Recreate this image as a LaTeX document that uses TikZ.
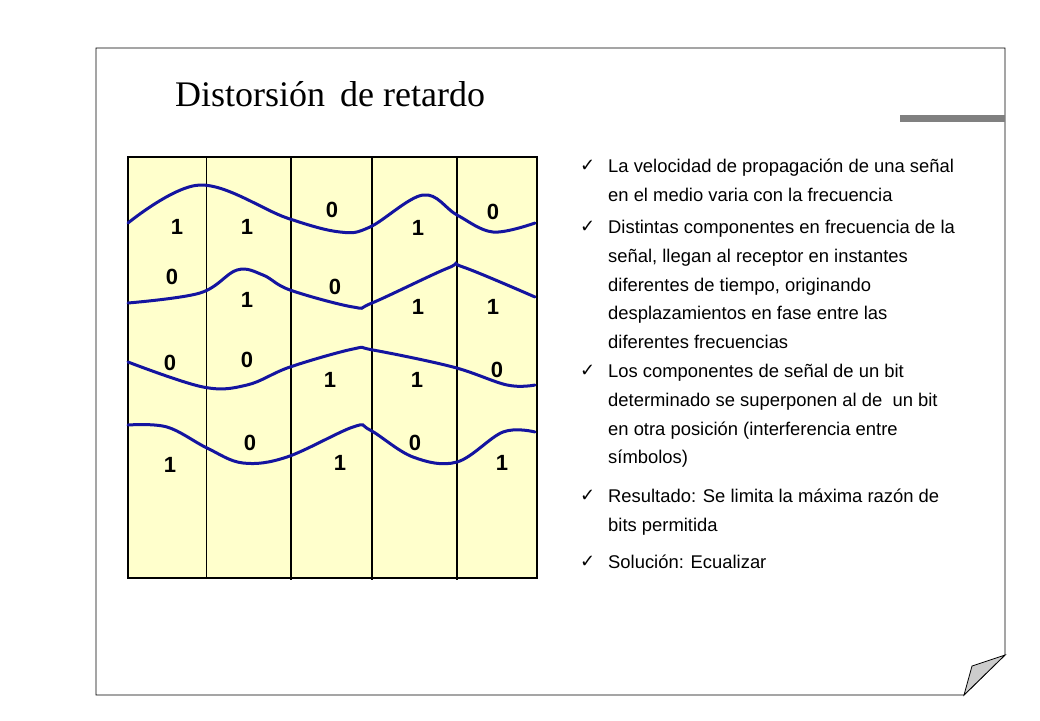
\documentclass[tikz,border=0pt]{standalone}
\usepackage{fontspec}
\setmainfont{Liberation Sans}
\newfontfamily\titlefont{Liberation Serif}
\newfontfamily\symfont{DejaVu Sans}
\usetikzlibrary{positioning}
\definecolor{paper}{RGB}{255,255,204}
\definecolor{wave}{RGB}{20,20,160}
\tikzset{
  bitlabel/.style={font=\bfseries\fontsize{22}{22}\selectfont},
  wavecurve/.style={wave, line width=3pt, line cap=round},
  itemtext/.style={anchor=north west, align=left, inner sep=0pt, font=\fontsize{18.4}{28.8}\selectfont},
  checkmark/.style={anchor=north west, inner sep=0pt, font=\symfont\bfseries\fontsize{18}{18}\selectfont}
}
\begin{document}
\begin{tikzpicture}[x=1pt,y=-1pt]
	\useasboundingbox (0,0) rectangle (1040,720);
	
		% page with curled corner
		\draw[line width=0.8pt] (96,48) -- (1005,48) -- (1005,655) -- (964,695) -- (96,695) -- cycle;
		\draw[line width=0.8pt, fill=black!20] (1005,655) -- (972,666) -- (964,695) -- cycle;
		\fill[black!50] (900,114.5) rectangle (1005,121.5);
		
		% title
		\node (title) [anchor=base west, inner sep=0pt, font=\titlefont\fontsize{36}{36}\selectfont] at (175,106) {Distorsión\, de retardo};
		
		% the grid
		\fill[paper] (128,157) rectangle (537,578);
		\draw[line width=1pt] (206,157) -- (206,578);
		\foreach \xx in {291,372,457}
			\draw[line width=1.6pt] (\xx,157) -- (\xx,580);
		\draw[line width=2pt] (128,157) rectangle (537,578);
		
		% the waves
		\draw[wavecurve] plot[smooth, tension=0.6] coordinates {(128,223) (200,185) (287,218) (340,232) (370,227) (423,195) (457,215) (493,232) (535,223)};
		\draw[wavecurve] plot[smooth, tension=0.6] coordinates {(128,303) (200,293) (237,270) (263,275) (290,290) (353,307) (372,303) (448,268) (463,267) (535,297)};
		\draw[wavecurve] plot[smooth, tension=0.6] coordinates {(128,362) (203,387) (247,385) (290,367) (353,349) (373,350) (453,367) (507,385) (535,385)};
		\draw[wavecurve] plot[smooth, tension=0.6] coordinates {(128,425) (167,427) (207,448) (243,463) (287,457) (353,427) (370,430) (413,457) (457,462) (503,432) (535,432)};
		
		% the bits
		\foreach \xx/\yy/\bb in {177/227/1, 247/227/1, 332/210/0, 418/228/1, 493/212/0,
			172/277/0, 247/300/1, 335/287/0, 418/307/1, 493/307/1,
			170/363/0, 247/360/0, 330/380/1, 417/380/1, 497/370/0,
			170/465/1, 250/443/0, 340/463/1, 415/443/0, 502/463/1}
			\node[bitlabel] at (\xx,\yy) {\bb};
		
		% the items
		\node (it1) [itemtext] at (608,159) {La velocidad de propagación de una señal\\en el medio varia con la frecuencia};
		\node (it2) [itemtext] at (608,220) {Distintas componentes en frecuencia de la\\señal, llegan al receptor en instantes\\diferentes de tiempo, originando\\desplazamientos en fase entre las\\diferentes frecuencias};
		\node (it3) [itemtext] at (608,364) {Los componentes de señal de un bit\\determinado se superponen al de\ \ un bit\\en otra posición (interferencia entre\\símbolos)};
		\node (it4) [itemtext] at (608,489) {Resultado: Se limita la máxima razón de\\bits permitida};
		\node (it5) [itemtext] at (608,555) {Solución: Ecualizar};
		\foreach \it in {it1,it2,it3,it4,it5}
			\node[checkmark] at ([xshift=-28pt,yshift=-1pt]\it.north west) {✓};
	
	\end{tikzpicture}
\end{document}
